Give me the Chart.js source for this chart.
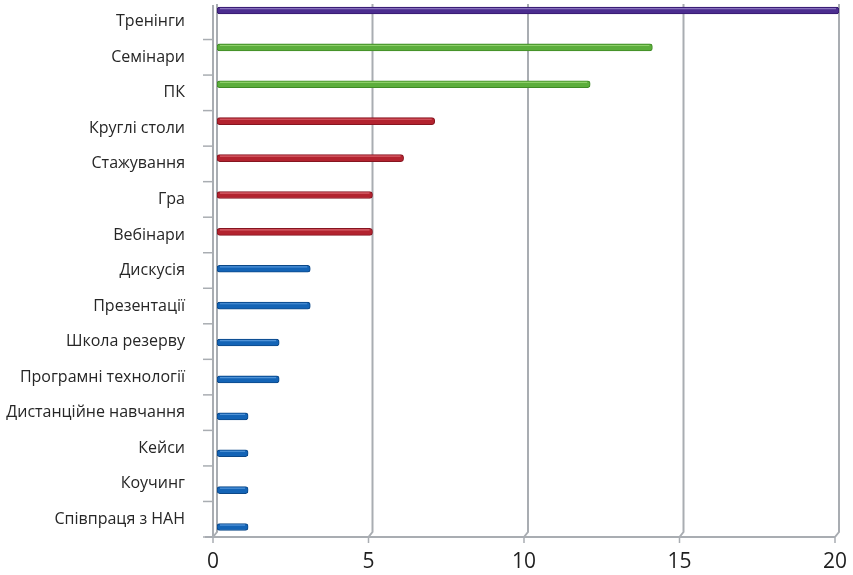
<!DOCTYPE html>
<html>
<head>
<meta charset="utf-8">
<script src="https://cdn.jsdelivr.net/npm/chart.js@4.4.1/dist/chart.umd.min.js"></script>
<style>
  html, body { margin: 0; padding: 0; background: #ffffff; }
  #wrap { width: 853px; height: 575px; position: relative; }
</style>
</head>
<body>
<div id="wrap"><canvas id="chart"></canvas></div>
<script>
// Forms of training, number of mentions
const categories = [
  'Тренінги', 'Семінари', 'ПК', 'Круглі столи', 'Стажування', 'Гра', 'Вебінари',
  'Дискусія', 'Презентації', 'Школа резерву', 'Програмні технології',
  'Дистанційне навчання', 'Кейси', 'Коучинг', 'Співпраця з НАН'
];
const values = [20, 14, 12, 7, 6, 5, 5, 3, 3, 2, 2, 1, 1, 1, 1];
const xTicks = [0, 5, 10, 15, 20];

// colour groups: top form, frequent, moderate, rare
const groupOf = [0, 1, 1, 2, 2, 2, 2, 3, 3, 3, 3, 3, 3, 3, 3];
const fills   = ['#4b2d8f', '#5cae3c', '#b3232f', '#1464b6'];
const edges   = ['#35196e', '#3f8a25', '#861520', '#0c4888'];
const lights  = ['#9b86c9', '#9bd776', '#e0707a', '#5f9fe0'];

const DEPTH_X = 4, DEPTH_Y = 5;
const FRAME = '#a9adb2';

// scales keep the exact plot box: no extra room for end labels
function noMargins(scale) {
  scale.paddingTop = 0;
  scale.paddingBottom = 0;
  scale.paddingLeft = 0;
  scale.paddingRight = 0;
}

// back wall, floor and axis tick marks of the pseudo-3D frame
const frame3d = {
  id: 'frame3d',
  beforeDatasetsDraw(chart) {
    const { ctx, chartArea: { top, bottom, left }, scales: { x, y } } = chart;
    ctx.save();
    ctx.strokeStyle = FRAME;
    ctx.lineWidth = 2;
    ctx.lineCap = 'butt';
    // wall grid lines with their floor diagonals
    xTicks.forEach(v => {
      const xb = x.getPixelForValue(v);
      ctx.beginPath();
      ctx.moveTo(xb, top);
      ctx.lineTo(xb, bottom - DEPTH_Y);
      ctx.lineTo(xb - DEPTH_X, bottom);
      ctx.stroke();
    });
    // front edge of the left wall
    ctx.beginPath();
    ctx.moveTo(left - DEPTH_X, top + 1);
    ctx.lineTo(left - DEPTH_X, bottom);
    ctx.stroke();
    // floor front edge
    ctx.beginPath();
    ctx.moveTo(left - DEPTH_X - 8, bottom);
    ctx.lineTo(x.getPixelForValue(xTicks[xTicks.length - 1]) - DEPTH_X, bottom);
    ctx.stroke();
    // value axis tick marks
    ctx.lineWidth = 1.5;
    xTicks.forEach(v => {
      const xf = x.getPixelForValue(v) - DEPTH_X;
      ctx.beginPath();
      ctx.moveTo(xf, bottom);
      ctx.lineTo(xf, bottom + 6);
      ctx.stroke();
    });
    // category boundaries
    for (let i = 1; i <= categories.length; i++) {
      const yy = i < categories.length
        ? (y.getPixelForValue(i - 1) + y.getPixelForValue(i)) / 2
        : bottom;
      ctx.beginPath();
      ctx.moveTo(left - DEPTH_X - 10, yy);
      ctx.lineTo(left - DEPTH_X, yy);
      ctx.stroke();
    }
    ctx.restore();
  },
  afterDatasetsDraw(chart) {
    // soft highlight along the upper side of each bar
    const { ctx } = chart;
    const meta = chart.getDatasetMeta(0);
    ctx.save();
    ctx.lineWidth = 1.2;
    meta.data.forEach((bar, i) => {
      const p = bar.getProps(['x', 'y', 'base', 'height'], true);
      ctx.strokeStyle = lights[groupOf[i]];
      ctx.globalAlpha = 0.8;
      ctx.beginPath();
      ctx.moveTo(p.base + 3, p.y - p.height / 2 + 1.6);
      ctx.lineTo(p.x - 3, p.y - p.height / 2 + 1.6);
      ctx.stroke();
    });
    ctx.restore();
  }
};

new Chart(document.getElementById('chart'), {
  type: 'bar',
  data: {
    datasets: [{
      data: values.map((v, i) => ({ x: v, y: i })),
      yAxisID: 'yb',
      xAxisID: 'x',
      backgroundColor: groupOf.map(g => fills[g]),
      borderColor: groupOf.map(g => edges[g]),
      borderWidth: 1,
      borderRadius: 3,
      borderSkipped: false,
      barThickness: 7
    }]
  },
  options: {
    indexAxis: 'y',
    responsive: true,
    maintainAspectRatio: false,
    animation: false,
    layout: { autoPadding: false, padding: { top: 4, right: 14, left: 0, bottom: 0 } },
    plugins: { legend: { display: false }, tooltip: { enabled: false } },
    scales: {
      x: {
        type: 'linear',
        position: 'bottom',
        min: 0,
        max: 20,
        grid: { display: false, drawTicks: false },
        border: { display: false },
        ticks: {
          stepSize: 5,
          padding: 12,
          labelOffset: -DEPTH_X,
          color: '#1f1f1f',
          font: { family: 'Open Sans', size: 21 }
        },
        afterFit(scale) { scale.height = 38; noMargins(scale); }
      },
      y: {
        type: 'category',
        position: 'left',
        labels: categories,
        offset: true,
        grid: { display: false, drawTicks: false },
        border: { display: false },
        ticks: {
          padding: 32,
          color: '#262626',
          font: { family: 'Open Sans', size: 16 }
        },
        afterFit(scale) { scale.width = 217; noMargins(scale); }
      },
      yb: {
        type: 'linear',
        display: false,
        offset: false,
        grace: 0,
        reverse: true,
        min: -0.176,
        max: 14.271
      }
    }
  },
  plugins: [frame3d]
});
</script>
</body>
</html>
